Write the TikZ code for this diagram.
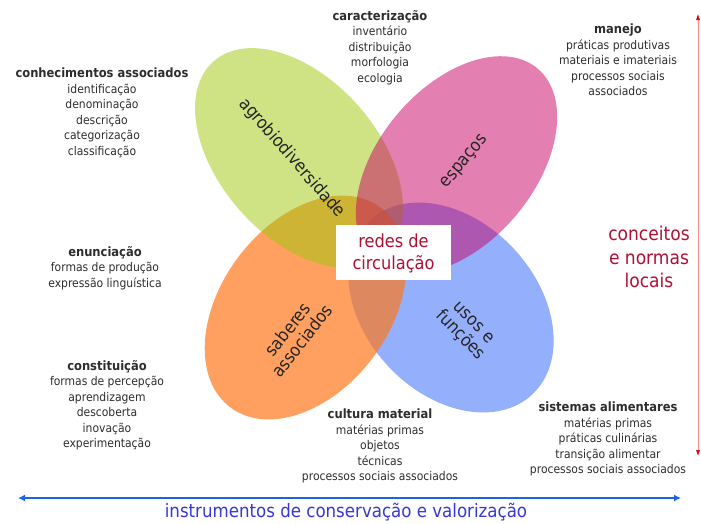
\documentclass[tikz,border=0pt]{standalone}
\usepackage{fontspec}
\setmainfont{DejaVu Sans Condensed}
\usetikzlibrary{arrows.meta}
\definecolor{blueE}{RGB}{60,110,250}
\definecolor{orangeE}{RGB}{255,120,30}
\definecolor{greenE}{RGB}{160,200,10}
\definecolor{pinkE}{RGB}{200,0,100}
\definecolor{txt}{RGB}{45,45,45}
\definecolor{crim}{RGB}{176,16,52}
\definecolor{arrowblue}{RGB}{25,100,235}
\definecolor{bluetxt}{RGB}{55,55,215}
\newcommand{\hd}[1]{{\fontsize{12.8}{15.5}\selectfont\bfseries #1}}
\tikzset{
  infoblock/.style={anchor=north, align=center, inner sep=0pt, text=txt,
    font=\fontsize{12}{15.5}\selectfont, execute at begin node=\strut},
  petallabel/.style={align=center, inner sep=0pt, text=black!85,
    font=\fontsize{17.5}{18.5}\selectfont},
  redtext/.style={align=center, inner sep=0pt, text=crim}
}
\begin{document}
\begin{tikzpicture}[x=1pt,y=-1pt]
\useasboundingbox (0,0) rectangle (701,523);
% petals
\fill[blueE, fill opacity=0.55, rotate around={-47:(451,307.5)}] (451,307.5) ellipse [x radius=119, y radius=86];
\fill[orangeE, fill opacity=0.7, rotate around={53:(305.5,307.5)}] (305.5,307.5) ellipse [x radius=125, y radius=84];
\fill[greenE, fill opacity=0.5, rotate around={-48.5:(299,158)}] (299,158) ellipse [x radius=129, y radius=79];
\fill[pinkE, fill opacity=0.5, rotate around={50:(456.5,165)}] (456.5,165) ellipse [x radius=126, y radius=78];
% petal labels
\node[petallabel, rotate=-49] (agro) at (292,158) {agrobiodiversidade};
\node[petallabel, rotate=50] (esp) at (465,162) {espaços};
\node[petallabel, rotate=52] (sab) at (295,335) {saberes\\associados};
\node[petallabel, rotate=-46] (usos) at (466,330) {usos e\\funções};
% centre box
\node[fill=white, minimum width=115pt, minimum height=55pt, inner sep=0pt] (boxc) at (393.5,252.5) {};
\node[redtext, font=\fontsize{18}{22}\selectfont] (redes) at (393.5,253) {redes de\\circulação};
% info blocks
\node[infoblock] (conh) at (102,68) {\hd{conhecimentos associados}\\identificação\\denominação\\descrição\\categorização\\classificação};
\node[infoblock] (carac) at (380,10) {\hd{caracterização}\\inventário\\distribuição\\morfologia\\ecologia};
\node[infoblock] (manejo) at (618,24) {\hd{manejo}\\práticas produtivas\\materiais e imateriais\\processos sociais\\associados};
\node[infoblock] (enun) at (105,246) {\hd{enunciação}\\formas de produção\\expressão linguística};
\node[infoblock] (const) at (107,360) {\hd{constituição}\\formas de percepção\\aprendizagem\\descoberta\\inovação\\experimentação};
\node[infoblock] (cult) at (380,409) {\hd{cultura material}\\matérias primas\\objetos\\técnicas\\processos sociais associados};
\node[infoblock] (sist) at (608,402) {\hd{sistemas alimentares}\\matérias primas\\práticas culinárias\\transição alimentar\\processos sociais associados};
% right red axis
\coordinate (rtop) at (698,14);
\coordinate (rbot) at (698,456);
\draw[red!45, line width=0.6pt, {Latex[red!85!black,length=6pt,width=4pt]}-{Latex[red!85!black,length=6pt,width=4pt]}] (rtop) -- (rbot);
\node[redtext, font=\fontsize{19}{23.5}\selectfont] (conc) at (649,257) {conceitos\\e normas\\locais};
% bottom blue axis
\coordinate (bl) at (18,498);
\coordinate (br) at (681,498);
\draw[arrowblue, line width=2.6pt, {Latex[length=7pt,width=7pt]}-{Latex[length=7pt,width=7pt]}] (bl) -- (br);
\node[inner sep=0pt, text=bluetxt, font=\fontsize{18.5}{22}\selectfont] (instr) at (346,512) {instrumentos de conservação e valorização};
\end{tikzpicture}
\end{document}
